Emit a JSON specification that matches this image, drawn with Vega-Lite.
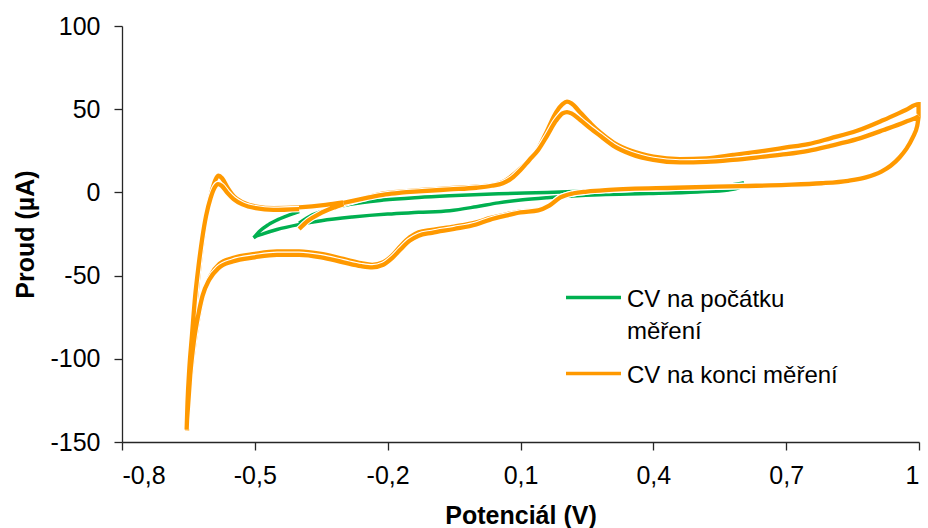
{
  "$schema": "https://vega.github.io/schema/vega-lite/v6.json",
  "autosize": {"type": "none"},
  "width": 797,
  "height": 416,
  "padding": {"left": 122, "top": 26, "right": 9, "bottom": 86},
  "background": "white",
  "config": {
    "view": {"stroke": null},
    "font": "Liberation Sans",
    "locale": {"number": {"decimal": ",", "thousands": " ", "grouping": [3], "currency": ["", ""], "minus": "-"}},
    "axis": {
      "grid": false,
      "domainColor": "#262626",
      "tickColor": "#262626",
      "domainWidth": 1.3,
      "tickWidth": 1.3,
      "tickSize": 8,
      "labelFont": "Liberation Sans",
      "labelFontSize": 25,
      "labelColor": "#000000",
      "titleFont": "Liberation Sans",
      "titleFontSize": 25,
      "titleFontWeight": "bold",
      "titleColor": "#000000"
    }
  },
  "data": {
    "values": [
      {"s": "CV na počátku měření", "c": 0, "i": 0, "v": -0.400, "a": -18.5},
      {"s": "CV na počátku měření", "c": 0, "i": 1, "v": -0.370, "a": -13.5},
      {"s": "CV na počátku měření", "c": 0, "i": 2, "v": -0.330, "a": -10.0},
      {"s": "CV na počátku měření", "c": 0, "i": 3, "v": -0.285, "a": -7.2},
      {"s": "CV na počátku měření", "c": 0, "i": 4, "v": -0.210, "a": -4.6},
      {"s": "CV na počátku měření", "c": 0, "i": 5, "v": -0.130, "a": -3.0},
      {"s": "CV na počátku měření", "c": 0, "i": 6, "v": -0.060, "a": -2.0},
      {"s": "CV na počátku měření", "c": 0, "i": 7, "v": 0.050, "a": -0.8},
      {"s": "CV na počátku měření", "c": 0, "i": 8, "v": 0.160, "a": 0.0},
      {"s": "CV na počátku měření", "c": 0, "i": 9, "v": 0.280, "a": 1.0},
      {"s": "CV na počátku měření", "c": 0, "i": 10, "v": 0.390, "a": 1.8},
      {"s": "CV na počátku měření", "c": 0, "i": 11, "v": 0.500, "a": 2.9},
      {"s": "CV na počátku měření", "c": 0, "i": 12, "v": 0.570, "a": 4.3},
      {"s": "CV na počátku měření", "c": 0, "i": 13, "v": 0.605, "a": 5.8},
      {"s": "CV na počátku měření", "c": 0, "i": 14, "v": 0.595, "a": 3.0},
      {"s": "CV na počátku měření", "c": 0, "i": 15, "v": 0.570, "a": 1.5},
      {"s": "CV na počátku měření", "c": 0, "i": 16, "v": 0.500, "a": 0.3},
      {"s": "CV na počátku měření", "c": 0, "i": 17, "v": 0.390, "a": -0.7},
      {"s": "CV na počátku měření", "c": 0, "i": 18, "v": 0.280, "a": -1.4},
      {"s": "CV na počátku měření", "c": 0, "i": 19, "v": 0.160, "a": -3.2},
      {"s": "CV na počátku měření", "c": 0, "i": 20, "v": 0.100, "a": -4.6},
      {"s": "CV na počátku měření", "c": 0, "i": 21, "v": 0.050, "a": -6.3},
      {"s": "CV na počátku měření", "c": 0, "i": 22, "v": 0.000, "a": -8.6},
      {"s": "CV na počátku měření", "c": 0, "i": 23, "v": -0.060, "a": -11.0},
      {"s": "CV na počátku měření", "c": 0, "i": 24, "v": -0.130, "a": -12.0},
      {"s": "CV na počátku měření", "c": 0, "i": 25, "v": -0.200, "a": -13.0},
      {"s": "CV na počátku měření", "c": 0, "i": 26, "v": -0.280, "a": -14.8},
      {"s": "CV na počátku měření", "c": 0, "i": 27, "v": -0.350, "a": -17.0},
      {"s": "CV na počátku měření", "c": 0, "i": 28, "v": -0.400, "a": -19.3},
      {"s": "CV na počátku měření", "c": 0, "i": 29, "v": -0.450, "a": -22.3},
      {"s": "CV na počátku měření", "c": 0, "i": 30, "v": -0.480, "a": -24.8},
      {"s": "CV na počátku měření", "c": 0, "i": 31, "v": -0.503, "a": -27.3},
      {"s": "CV na počátku měření", "c": 0, "i": 32, "v": -0.490, "a": -23.5},
      {"s": "CV na počátku měření", "c": 0, "i": 33, "v": -0.470, "a": -19.5},
      {"s": "CV na počátku měření", "c": 0, "i": 34, "v": -0.445, "a": -16.0},
      {"s": "CV na počátku měření", "c": 0, "i": 35, "v": -0.420, "a": -13.3},
      {"s": "CV na počátku měření", "c": 0, "i": 36, "v": -0.400, "a": -11.5},

      {"s": "CV na konci měření", "c": 1, "i": 0, "v": -0.400, "a": -22.0},
      {"s": "CV na konci měření", "c": 1, "i": 1, "v": -0.380, "a": -17.0},
      {"s": "CV na konci měření", "c": 1, "i": 2, "v": -0.355, "a": -13.0},
      {"s": "CV na konci měření", "c": 1, "i": 3, "v": -0.320, "a": -9.0},
      {"s": "CV na konci měření", "c": 1, "i": 4, "v": -0.280, "a": -5.5},
      {"s": "CV na konci měření", "c": 1, "i": 5, "v": -0.240, "a": -2.5},
      {"s": "CV na konci měření", "c": 1, "i": 6, "v": -0.205, "a": -0.5},
      {"s": "CV na konci měření", "c": 1, "i": 7, "v": -0.170, "a": 0.5},
      {"s": "CV na konci měření", "c": 1, "i": 8, "v": -0.130, "a": 1.3},
      {"s": "CV na konci měření", "c": 1, "i": 9, "v": -0.060, "a": 2.5},
      {"s": "CV na konci měření", "c": 1, "i": 10, "v": 0.000, "a": 3.5},
      {"s": "CV na konci měření", "c": 1, "i": 11, "v": 0.030, "a": 4.2},
      {"s": "CV na konci měření", "c": 1, "i": 12, "v": 0.065, "a": 7.0},
      {"s": "CV na konci měření", "c": 1, "i": 13, "v": 0.090, "a": 12.0},
      {"s": "CV na konci měření", "c": 1, "i": 14, "v": 0.110, "a": 17.0},
      {"s": "CV na konci měření", "c": 1, "i": 15, "v": 0.135, "a": 24.0},
      {"s": "CV na konci měření", "c": 1, "i": 16, "v": 0.160, "a": 37.0},
      {"s": "CV na konci měření", "c": 1, "i": 17, "v": 0.180, "a": 48.0},
      {"s": "CV na konci měření", "c": 1, "i": 18, "v": 0.195, "a": 53.0},
      {"s": "CV na konci měření", "c": 1, "i": 19, "v": 0.205, "a": 54.5},
      {"s": "CV na konci měření", "c": 1, "i": 20, "v": 0.215, "a": 53.5},
      {"s": "CV na konci měření", "c": 1, "i": 21, "v": 0.235, "a": 48.0},
      {"s": "CV na konci měření", "c": 1, "i": 22, "v": 0.260, "a": 41.0},
      {"s": "CV na konci měření", "c": 1, "i": 23, "v": 0.280, "a": 36.0},
      {"s": "CV na konci měření", "c": 1, "i": 24, "v": 0.310, "a": 30.0},
      {"s": "CV na konci měření", "c": 1, "i": 25, "v": 0.350, "a": 25.0},
      {"s": "CV na konci měření", "c": 1, "i": 26, "v": 0.400, "a": 21.5},
      {"s": "CV na konci měření", "c": 1, "i": 27, "v": 0.460, "a": 20.0},
      {"s": "CV na konci měření", "c": 1, "i": 28, "v": 0.520, "a": 20.5},
      {"s": "CV na konci měření", "c": 1, "i": 29, "v": 0.580, "a": 22.5},
      {"s": "CV na konci měření", "c": 1, "i": 30, "v": 0.650, "a": 25.0},
      {"s": "CV na konci měření", "c": 1, "i": 31, "v": 0.700, "a": 27.0},
      {"s": "CV na konci měření", "c": 1, "i": 32, "v": 0.750, "a": 29.0},
      {"s": "CV na konci měření", "c": 1, "i": 33, "v": 0.800, "a": 32.5},
      {"s": "CV na konci měření", "c": 1, "i": 34, "v": 0.860, "a": 37.0},
      {"s": "CV na konci měření", "c": 1, "i": 35, "v": 0.920, "a": 43.5},
      {"s": "CV na konci měření", "c": 1, "i": 36, "v": 0.970, "a": 49.5},
      {"s": "CV na konci měření", "c": 1, "i": 37, "v": 0.999, "a": 53.0},
      {"s": "CV na konci měření", "c": 1, "i": 38, "v": 0.999, "a": 45.0},
      {"s": "CV na konci měření", "c": 1, "i": 39, "v": 0.995, "a": 40.0},
      {"s": "CV na konci měření", "c": 1, "i": 40, "v": 0.985, "a": 33.0},
      {"s": "CV na konci měření", "c": 1, "i": 41, "v": 0.970, "a": 26.0},
      {"s": "CV na konci měření", "c": 1, "i": 42, "v": 0.955, "a": 21.0},
      {"s": "CV na konci měření", "c": 1, "i": 43, "v": 0.935, "a": 16.0},
      {"s": "CV na konci měření", "c": 1, "i": 44, "v": 0.915, "a": 12.5},
      {"s": "CV na konci měření", "c": 1, "i": 45, "v": 0.880, "a": 9.0},
      {"s": "CV na konci měření", "c": 1, "i": 46, "v": 0.840, "a": 7.0},
      {"s": "CV na konci měření", "c": 1, "i": 47, "v": 0.780, "a": 5.5},
      {"s": "CV na konci měření", "c": 1, "i": 48, "v": 0.700, "a": 4.5},
      {"s": "CV na konci měření", "c": 1, "i": 49, "v": 0.600, "a": 3.8},
      {"s": "CV na konci měření", "c": 1, "i": 50, "v": 0.450, "a": 2.8},
      {"s": "CV na konci měření", "c": 1, "i": 51, "v": 0.300, "a": 1.5},
      {"s": "CV na konci měření", "c": 1, "i": 52, "v": 0.250, "a": 0.5},
      {"s": "CV na konci měření", "c": 1, "i": 53, "v": 0.220, "a": -0.5},
      {"s": "CV na konci měření", "c": 1, "i": 54, "v": 0.190, "a": -3.0},
      {"s": "CV na konci měření", "c": 1, "i": 55, "v": 0.165, "a": -8.0},
      {"s": "CV na konci měření", "c": 1, "i": 56, "v": 0.140, "a": -10.5},
      {"s": "CV na konci měření", "c": 1, "i": 57, "v": 0.100, "a": -11.5},
      {"s": "CV na konci měření", "c": 1, "i": 58, "v": 0.070, "a": -13.0},
      {"s": "CV na konci měření", "c": 1, "i": 59, "v": 0.030, "a": -15.5},
      {"s": "CV na konci měření", "c": 1, "i": 60, "v": 0.000, "a": -18.0},
      {"s": "CV na konci měření", "c": 1, "i": 61, "v": -0.050, "a": -20.5},
      {"s": "CV na konci měření", "c": 1, "i": 62, "v": -0.100, "a": -22.5},
      {"s": "CV na konci měření", "c": 1, "i": 63, "v": -0.130, "a": -24.0},
      {"s": "CV na konci měření", "c": 1, "i": 64, "v": -0.150, "a": -27.0},
      {"s": "CV na konci měření", "c": 1, "i": 65, "v": -0.170, "a": -32.0},
      {"s": "CV na konci měření", "c": 1, "i": 66, "v": -0.190, "a": -38.0},
      {"s": "CV na konci měření", "c": 1, "i": 67, "v": -0.210, "a": -42.0},
      {"s": "CV na konci měření", "c": 1, "i": 68, "v": -0.235, "a": -43.5},
      {"s": "CV na konci měření", "c": 1, "i": 69, "v": -0.260, "a": -42.5},
      {"s": "CV na konci měření", "c": 1, "i": 70, "v": -0.300, "a": -40.0},
      {"s": "CV na konci měření", "c": 1, "i": 71, "v": -0.350, "a": -37.0},
      {"s": "CV na konci měření", "c": 1, "i": 72, "v": -0.400, "a": -35.5},
      {"s": "CV na konci měření", "c": 1, "i": 73, "v": -0.450, "a": -35.5},
      {"s": "CV na konci měření", "c": 1, "i": 74, "v": -0.500, "a": -37.0},
      {"s": "CV na konci měření", "c": 1, "i": 75, "v": -0.550, "a": -39.5},
      {"s": "CV na konci měření", "c": 1, "i": 76, "v": -0.580, "a": -43.0},
      {"s": "CV na konci měření", "c": 1, "i": 77, "v": -0.600, "a": -50.0},
      {"s": "CV na konci měření", "c": 1, "i": 78, "v": -0.615, "a": -60.0},
      {"s": "CV na konci měření", "c": 1, "i": 79, "v": -0.625, "a": -72.0},
      {"s": "CV na konci měření", "c": 1, "i": 80, "v": -0.635, "a": -88.0},
      {"s": "CV na konci měření", "c": 1, "i": 81, "v": -0.644, "a": -108.0},
      {"s": "CV na konci měření", "c": 1, "i": 82, "v": -0.650, "a": -128.0},
      {"s": "CV na konci měření", "c": 1, "i": 83, "v": -0.653, "a": -143.0},
      {"s": "CV na konci měření", "c": 1, "i": 84, "v": -0.650, "a": -125.0},
      {"s": "CV na konci měření", "c": 1, "i": 85, "v": -0.645, "a": -105.0},
      {"s": "CV na konci měření", "c": 1, "i": 86, "v": -0.639, "a": -85.0},
      {"s": "CV na konci měření", "c": 1, "i": 87, "v": -0.632, "a": -62.0},
      {"s": "CV na konci měření", "c": 1, "i": 88, "v": -0.624, "a": -42.0},
      {"s": "CV na konci měření", "c": 1, "i": 89, "v": -0.616, "a": -25.0},
      {"s": "CV na konci měření", "c": 1, "i": 90, "v": -0.607, "a": -10.0},
      {"s": "CV na konci měření", "c": 1, "i": 91, "v": -0.597, "a": 1.0},
      {"s": "CV na konci měření", "c": 1, "i": 92, "v": -0.589, "a": 7.5},
      {"s": "CV na konci měření", "c": 1, "i": 93, "v": -0.582, "a": 10.0},
      {"s": "CV na konci měření", "c": 1, "i": 94, "v": -0.574, "a": 8.5},
      {"s": "CV na konci měření", "c": 1, "i": 95, "v": -0.562, "a": 3.0},
      {"s": "CV na konci měření", "c": 1, "i": 96, "v": -0.547, "a": -2.5},
      {"s": "CV na konci měření", "c": 1, "i": 97, "v": -0.527, "a": -6.0},
      {"s": "CV na konci měření", "c": 1, "i": 98, "v": -0.497, "a": -8.5},
      {"s": "CV na konci měření", "c": 1, "i": 99, "v": -0.457, "a": -9.5},
      {"s": "CV na konci měření", "c": 1, "i": 100, "v": -0.400, "a": -9.0},
      {"s": "CV na konci měření", "c": 1, "i": 101, "v": -0.340, "a": -7.5},
      {"s": "CV na konci měření", "c": 1, "i": 102, "v": -0.300, "a": -6.0},

      {"s": "CV na konci měření", "c": 2, "i": 0, "v": -0.300, "a": -6.3},
      {"s": "CV na konci měření", "c": 2, "i": 1, "v": -0.250, "a": -3.5},
      {"s": "CV na konci měření", "c": 2, "i": 2, "v": -0.205, "a": -1.2},
      {"s": "CV na konci měření", "c": 2, "i": 3, "v": -0.170, "a": -0.2},
      {"s": "CV na konci měření", "c": 2, "i": 4, "v": -0.130, "a": 0.6},
      {"s": "CV na konci měření", "c": 2, "i": 5, "v": -0.060, "a": 1.8},
      {"s": "CV na konci měření", "c": 2, "i": 6, "v": 0.000, "a": 2.8},
      {"s": "CV na konci měření", "c": 2, "i": 7, "v": 0.035, "a": 4.0},
      {"s": "CV na konci měření", "c": 2, "i": 8, "v": 0.060, "a": 5.5},
      {"s": "CV na konci měření", "c": 2, "i": 9, "v": 0.080, "a": 8.5},
      {"s": "CV na konci měření", "c": 2, "i": 10, "v": 0.100, "a": 13.5},
      {"s": "CV na konci měření", "c": 2, "i": 11, "v": 0.120, "a": 19.5},
      {"s": "CV na konci měření", "c": 2, "i": 12, "v": 0.140, "a": 25.5},
      {"s": "CV na konci měření", "c": 2, "i": 13, "v": 0.160, "a": 34.0},
      {"s": "CV na konci měření", "c": 2, "i": 14, "v": 0.180, "a": 43.0},
      {"s": "CV na konci měření", "c": 2, "i": 15, "v": 0.195, "a": 47.5},
      {"s": "CV na konci měření", "c": 2, "i": 16, "v": 0.205, "a": 48.3},
      {"s": "CV na konci měření", "c": 2, "i": 17, "v": 0.215, "a": 47.5},
      {"s": "CV na konci měření", "c": 2, "i": 18, "v": 0.235, "a": 43.5},
      {"s": "CV na konci měření", "c": 2, "i": 19, "v": 0.260, "a": 38.0},
      {"s": "CV na konci měření", "c": 2, "i": 20, "v": 0.280, "a": 34.0},
      {"s": "CV na konci měření", "c": 2, "i": 21, "v": 0.310, "a": 28.0},
      {"s": "CV na konci měření", "c": 2, "i": 22, "v": 0.350, "a": 23.0},
      {"s": "CV na konci měření", "c": 2, "i": 23, "v": 0.400, "a": 19.5},
      {"s": "CV na konci měření", "c": 2, "i": 24, "v": 0.460, "a": 18.0},
      {"s": "CV na konci měření", "c": 2, "i": 25, "v": 0.520, "a": 18.3},
      {"s": "CV na konci měření", "c": 2, "i": 26, "v": 0.580, "a": 19.5},
      {"s": "CV na konci měření", "c": 2, "i": 27, "v": 0.650, "a": 21.5},
      {"s": "CV na konci měření", "c": 2, "i": 28, "v": 0.700, "a": 23.0},
      {"s": "CV na konci měření", "c": 2, "i": 29, "v": 0.750, "a": 25.0},
      {"s": "CV na konci měření", "c": 2, "i": 30, "v": 0.800, "a": 28.0},
      {"s": "CV na konci měření", "c": 2, "i": 31, "v": 0.860, "a": 32.0},
      {"s": "CV na konci měření", "c": 2, "i": 32, "v": 0.920, "a": 37.5},
      {"s": "CV na konci měření", "c": 2, "i": 33, "v": 0.970, "a": 42.5},
      {"s": "CV na konci měření", "c": 2, "i": 34, "v": 1.000, "a": 46.0},
      {"s": "CV na konci měření", "c": 2, "i": 35, "v": 0.996, "a": 40.0},
      {"s": "CV na konci měření", "c": 2, "i": 36, "v": 0.986, "a": 33.0},
      {"s": "CV na konci měření", "c": 2, "i": 37, "v": 0.971, "a": 26.0},
      {"s": "CV na konci měření", "c": 2, "i": 38, "v": 0.956, "a": 21.0},
      {"s": "CV na konci měření", "c": 2, "i": 39, "v": 0.936, "a": 16.0},
      {"s": "CV na konci měření", "c": 2, "i": 40, "v": 0.915, "a": 12.5},
      {"s": "CV na konci měření", "c": 2, "i": 41, "v": 0.880, "a": 9.0},
      {"s": "CV na konci měření", "c": 2, "i": 42, "v": 0.840, "a": 7.0},
      {"s": "CV na konci měření", "c": 2, "i": 43, "v": 0.780, "a": 5.5},
      {"s": "CV na konci měření", "c": 2, "i": 44, "v": 0.700, "a": 4.5},
      {"s": "CV na konci měření", "c": 2, "i": 45, "v": 0.600, "a": 3.8},
      {"s": "CV na konci měření", "c": 2, "i": 46, "v": 0.450, "a": 2.8},
      {"s": "CV na konci měření", "c": 2, "i": 47, "v": 0.300, "a": 1.5},
      {"s": "CV na konci měření", "c": 2, "i": 48, "v": 0.250, "a": 0.5},
      {"s": "CV na konci měření", "c": 2, "i": 49, "v": 0.220, "a": -0.5},
      {"s": "CV na konci měření", "c": 2, "i": 50, "v": 0.190, "a": -3.0},
      {"s": "CV na konci měření", "c": 2, "i": 51, "v": 0.165, "a": -8.0},
      {"s": "CV na konci měření", "c": 2, "i": 52, "v": 0.140, "a": -10.8},
      {"s": "CV na konci měření", "c": 2, "i": 53, "v": 0.100, "a": -12.0},
      {"s": "CV na konci měření", "c": 2, "i": 54, "v": 0.070, "a": -13.8},
      {"s": "CV na konci měření", "c": 2, "i": 55, "v": 0.030, "a": -16.5},
      {"s": "CV na konci měření", "c": 2, "i": 56, "v": 0.000, "a": -19.3},
      {"s": "CV na konci měření", "c": 2, "i": 57, "v": -0.050, "a": -22.0},
      {"s": "CV na konci měření", "c": 2, "i": 58, "v": -0.100, "a": -24.3},
      {"s": "CV na konci měření", "c": 2, "i": 59, "v": -0.130, "a": -26.0},
      {"s": "CV na konci měření", "c": 2, "i": 60, "v": -0.150, "a": -29.0},
      {"s": "CV na konci měření", "c": 2, "i": 61, "v": -0.170, "a": -34.0},
      {"s": "CV na konci měření", "c": 2, "i": 62, "v": -0.190, "a": -39.5},
      {"s": "CV na konci měření", "c": 2, "i": 63, "v": -0.210, "a": -43.5},
      {"s": "CV na konci měření", "c": 2, "i": 64, "v": -0.235, "a": -45.0},
      {"s": "CV na konci měření", "c": 2, "i": 65, "v": -0.260, "a": -44.3},
      {"s": "CV na konci měření", "c": 2, "i": 66, "v": -0.300, "a": -42.0},
      {"s": "CV na konci měření", "c": 2, "i": 67, "v": -0.350, "a": -39.0},
      {"s": "CV na konci měření", "c": 2, "i": 68, "v": -0.400, "a": -37.5},
      {"s": "CV na konci měření", "c": 2, "i": 69, "v": -0.450, "a": -37.5},
      {"s": "CV na konci měření", "c": 2, "i": 70, "v": -0.500, "a": -39.0},
      {"s": "CV na konci měření", "c": 2, "i": 71, "v": -0.550, "a": -41.5},
      {"s": "CV na konci měření", "c": 2, "i": 72, "v": -0.582, "a": -45.5},
      {"s": "CV na konci měření", "c": 2, "i": 73, "v": -0.603, "a": -52.5},
      {"s": "CV na konci měření", "c": 2, "i": 74, "v": -0.618, "a": -62.0},
      {"s": "CV na konci měření", "c": 2, "i": 75, "v": -0.628, "a": -74.0},
      {"s": "CV na konci měření", "c": 2, "i": 76, "v": -0.638, "a": -90.0},
      {"s": "CV na konci měření", "c": 2, "i": 77, "v": -0.646, "a": -110.0},
      {"s": "CV na konci měření", "c": 2, "i": 78, "v": -0.651, "a": -129.0},
      {"s": "CV na konci měření", "c": 2, "i": 79, "v": -0.654, "a": -142.5},
      {"s": "CV na konci měření", "c": 2, "i": 80, "v": -0.652, "a": -126.0},
      {"s": "CV na konci měření", "c": 2, "i": 81, "v": -0.648, "a": -106.0},
      {"s": "CV na konci měření", "c": 2, "i": 82, "v": -0.642, "a": -86.0},
      {"s": "CV na konci měření", "c": 2, "i": 83, "v": -0.635, "a": -63.0},
      {"s": "CV na konci měření", "c": 2, "i": 84, "v": -0.627, "a": -44.0},
      {"s": "CV na konci měření", "c": 2, "i": 85, "v": -0.619, "a": -28.0},
      {"s": "CV na konci měření", "c": 2, "i": 86, "v": -0.610, "a": -14.0},
      {"s": "CV na konci měření", "c": 2, "i": 87, "v": -0.600, "a": -3.5},
      {"s": "CV na konci měření", "c": 2, "i": 88, "v": -0.591, "a": 2.8},
      {"s": "CV na konci měření", "c": 2, "i": 89, "v": -0.583, "a": 5.0},
      {"s": "CV na konci měření", "c": 2, "i": 90, "v": -0.575, "a": 4.0},
      {"s": "CV na konci měření", "c": 2, "i": 91, "v": -0.563, "a": 0.0},
      {"s": "CV na konci měření", "c": 2, "i": 92, "v": -0.548, "a": -4.0},
      {"s": "CV na konci měření", "c": 2, "i": 93, "v": -0.528, "a": -7.2},
      {"s": "CV na konci měření", "c": 2, "i": 94, "v": -0.498, "a": -9.5},
      {"s": "CV na konci měření", "c": 2, "i": 95, "v": -0.458, "a": -10.5},
      {"s": "CV na konci měření", "c": 2, "i": 96, "v": -0.400, "a": -10.0}
    ]
  },
  "encoding": {
    "x": {
      "field": "v",
      "type": "quantitative",
      "scale": {"domain": [-0.8, 1], "nice": false, "zero": false},
      "axis": {
        "title": "Potenciál (V)",
        "values": [-0.8, -0.5, -0.2, 0.1, 0.4, 0.7, 1],
        "format": ".1~f",
        "labelPadding": 13,
        "titlePadding": 15
      }
    },
    "y": {
      "field": "a",
      "type": "quantitative",
      "scale": {"domain": [-150, 100], "nice": false, "zero": false},
      "axis": {
        "title": "Proud (µA)",
        "values": [-150, -100, -50, 0, 50, 100],
        "format": "d",
        "labelPadding": 14,
        "titlePadding": 11
      }
    },
    "order": {"field": "i", "type": "quantitative"}
  },
  "layer": [
    {
      "transform": [{"filter": "datum.c == 0"}],
      "mark": {"type": "line", "strokeWidth": 3.5, "interpolate": "monotone"},
      "encoding": {
        "color": {
          "field": "s",
          "type": "nominal",
          "scale": {"domain": ["CV na počátku měření", "CV na konci měření"], "range": ["#00B050", "#FF9900"]},
          "legend": {
            "orient": "none",
            "legendX": 442,
            "legendY": 242,
            "title": null,
            "padding": 0,
            "symbolType": "stroke",
            "symbolSize": 3025,
            "symbolStrokeWidth": 3.5,
            "labelFont": "Liberation Sans",
            "labelFontSize": 24,
            "labelColor": "#000000",
            "labelOffset": 4,
            "labelLimit": 400,
            "labelBaseline": "alphabetic",
            "rowPadding": -2,
            "labelExpr": "datum.label == 'CV na počátku měření' ? ['CV na počátku', 'měření'] : datum.label",
            "encode": {"labels": {"update": {"dy": {"value": 9}, "lineHeight": {"value": 32}}}}
          }
        }
      }
    },
    {
      "transform": [{"filter": "datum.c == 1"}],
      "mark": {"type": "line", "strokeWidth": 6.5, "color": "white", "interpolate": "monotone"},
      "encoding": {}
    },
    {
      "transform": [{"filter": "datum.c == 1"}],
      "mark": {"type": "line", "strokeWidth": 4.3, "interpolate": "monotone"},
      "encoding": {"color": {"field": "s", "type": "nominal"}}
    },
    {
      "transform": [{"filter": "datum.c == 2"}],
      "mark": {"type": "line", "strokeWidth": 6.5, "color": "white", "interpolate": "monotone"},
      "encoding": {}
    },
    {
      "transform": [{"filter": "datum.c == 2"}],
      "mark": {"type": "line", "strokeWidth": 4.3, "interpolate": "monotone"},
      "encoding": {"color": {"field": "s", "type": "nominal"}}
    }
  ]
}
